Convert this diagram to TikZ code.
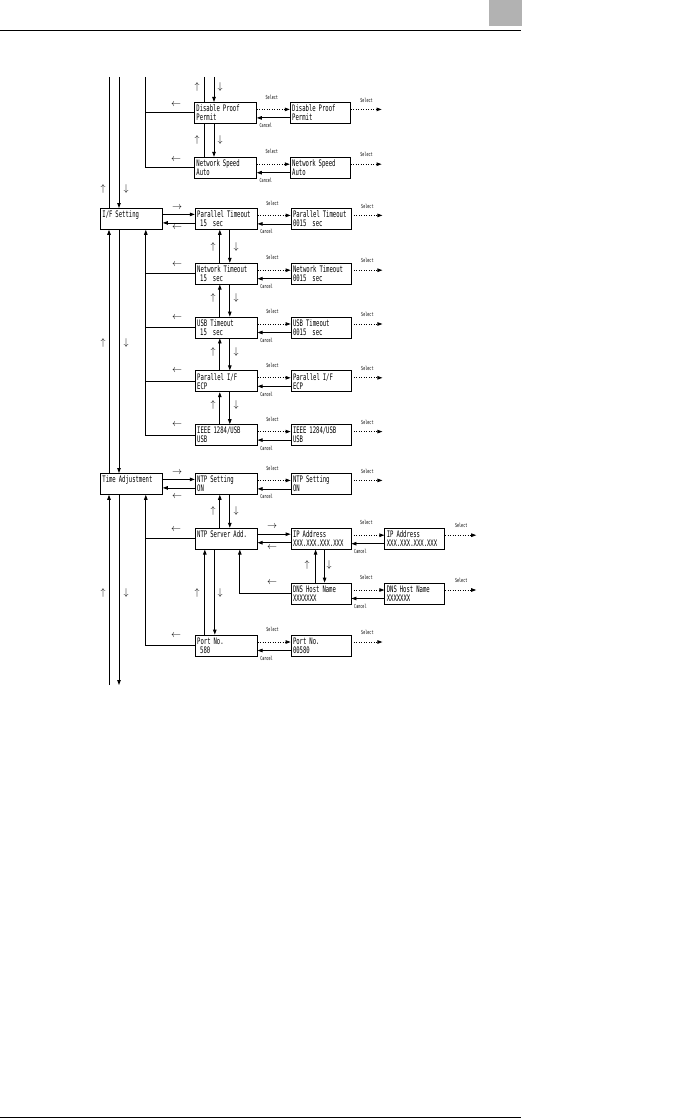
\documentclass[tikz,border=0pt]{standalone}
\usepackage{fontspec}
\usetikzlibrary{positioning, arrows.meta, calc}
\newfontfamily\lcdfont[FakeStretch=0.62]{DejaVu Sans Mono}
\hyphenpenalty=10000

\begin{document}
\begin{tikzpicture}[
  x=1pt, y=-1pt,
  menubox/.style={draw, line width=0.8pt, minimum height=21pt, text width=58pt, inner xsep=2pt, inner ysep=1pt, align=left, font=\fontsize{9}{9}\lcdfont},
  editbox/.style={menubox, text width=56pt},
  link/.style={line width=0.8pt},
  tip/.style={link, -{Triangle[length=5pt,width=3.5pt]}},
  selarrow/.style={tip, dash pattern=on 1pt off 1.5pt},
  lbl/.style={font=\fontsize{5.5}{5.5}\lcdfont, inner sep=0pt},
  hint/.style={inner sep=0pt, font=\normalsize}
]
\useasboundingbox (0,0) rectangle (683,1118);

% page header and footer
\fill[gray!60] (489,0) rectangle (522,26);
\draw[line width=1pt] (0,31) -- (521,31);
\draw[line width=1pt] (0,1117) -- (521,1117);

% menu items
\node[menubox, anchor=north west] (dproof) at (194,102) {Disable Proof\\Permit};
\node[menubox, below=33pt of dproof] (netspeed) {Network Speed\\Auto};

\node[menubox, anchor=north west] (ifset) at (100,208) {I/F Setting\\\phantom{X}};
\node[menubox, right=32pt of ifset] (partime) {Parallel Timeout\\\ 15\ \ sec};
\node[menubox, below=33pt of partime] (nettime) {Network Timeout\\\ 15\ \ sec};
\node[menubox, below=32pt of nettime] (usbtime) {USB Timeout\\\ 15\ \ sec};
\node[menubox, below=32pt of usbtime] (parif) {Parallel I/F\\ECP};
\node[menubox, below=32pt of parif] (ieee) {IEEE 1284/USB\\USB};

\node[menubox, anchor=north west] (timeadj) at (100,473) {Time Adjustment\\\phantom{X}};
\node[menubox, right=32pt of timeadj] (ntpset) {NTP Setting\\ON};
\node[menubox, below=33pt of ntpset] (ntpsrv) {NTP Server Add.\\\phantom{X}};
\node[menubox, below=85pt of ntpsrv] (portno) {Port No.\\\ 580};
\node[editbox, right=33pt of ntpsrv] (ipaddr) {IP Address\\XXX.XXX.XXX.XXX};
\node[editbox, below=33pt of ipaddr] (dnsname) {DNS Host Name\\XXXXXXX};

% edit screens
\node[editbox, right=33pt of dproof] (dproofE) {Disable Proof\\Permit};
\node[editbox, right=33pt of netspeed] (netspeedE) {Network Speed\\Auto};
\node[editbox, right=33pt of partime] (partimeE) {Parallel Timeout\\0015\ \ sec};
\node[editbox, right=33pt of nettime] (nettimeE) {Network Timeout\\0015\ \ sec};
\node[editbox, right=33pt of usbtime] (usbtimeE) {USB Timeout\\0015\ \ sec};
\node[editbox, right=33pt of parif] (parifE) {Parallel I/F\\ECP};
\node[editbox, right=33pt of ieee] (ieeeE) {IEEE 1284/USB\\USB};
\node[editbox, right=33pt of ntpset] (ntpsetE) {NTP Setting\\ON};
\node[editbox, right=33pt of portno] (portnoE) {Port No.\\00580};
\node[editbox, right=33pt of ipaddr] (ipaddrE) {IP Address\\XXX.XXX.XXX.XXX};
\node[editbox, right=33pt of dnsname] (dnsnameE) {DNS Host Name\\XXXXXXX};

% Select / Cancel
\foreach \a/\b in {dproof/dproofE, netspeed/netspeedE, partime/partimeE, nettime/nettimeE,
    usbtime/usbtimeE, parif/parifE, ieee/ieeeE, ntpset/ntpsetE, portno/portnoE,
    ipaddr/ipaddrE, dnsname/dnsnameE} {
  \draw[selarrow] ([yshift=3.5pt]\a.east) -- ([yshift=3.5pt]\b.west);
  \draw[tip] ([yshift=-5pt]\b.west) -- ([yshift=-5pt]\a.east);
  \coordinate (\b-out) at ([xshift=31pt,yshift=3.5pt]\b.east);
  \draw[selarrow] ([yshift=3.5pt]\b.east) -- (\b-out);
  \node[lbl] (\a-sel) at ([xshift=15pt,yshift=5pt]\a.north east) {Select};
  \node[lbl] (\a-can) at ([xshift=9pt,yshift=-2pt]\a.south east) {Cancel};
  \node[lbl] (\b-sel) at ([xshift=16pt,yshift=2pt]\b.north east) {Select};
}

% enter / back between levels
\foreach \a/\b in {ifset/partime, timeadj/ntpset, ntpsrv/ipaddr} {
  \draw[tip] ([yshift=4.5pt]\a.east) -- ([yshift=4.5pt]\b.west);
  \draw[tip] ([yshift=-4pt]\b.west) -- ([yshift=-4pt]\a.east);
}

% main column
\coordinate (topA) at (109,77);
\coordinate (topB) at (119,77);
\coordinate (topC) at (145,77);
\coordinate (topD) at (204,77);
\coordinate (topE) at (214,77);
\coordinate (botA) at (109,685);
\coordinate (botB) at (119,685);
\draw[link] (topA) -- ([xshift=9pt]ifset.north west);
\draw[tip] ([xshift=9pt]timeadj.north west) -- ([xshift=9pt]ifset.south west);
\draw[tip] (botA) -- ([xshift=9pt]timeadj.south west);
\draw[tip] (topB) -- ([xshift=19pt]ifset.north west);
\draw[tip] ([xshift=19pt]ifset.south west) -- ([xshift=19pt]timeadj.north west);
\draw[tip] ([xshift=19pt]timeadj.south west) -- (botB);

% back lines
\draw[link] (topC) |- (netspeed.west);
\draw[link] (dproof.west -| topC) -- (dproof.west);
\coordinate (ifret) at ([xshift=-17pt]ifset.south east);
\draw[tip] (ieee.west) -| (ifret);
\foreach \n in {nettime, usbtime, parif}
  \draw[link] (\n.west) -- (\n.west -| ifret);
\coordinate (taret) at ([xshift=-17pt]timeadj.south east);
\draw[tip] (portno.west) -| (taret);
\draw[link] (ntpsrv.west) -- (ntpsrv.west -| taret);
\draw[tip] (dnsname.west) -| ([xshift=45pt]ntpsrv.south west);

% sub columns
\draw[link] (topD) -- ([xshift=10pt]dproof.north west);
\draw[tip] (topE) -- ([xshift=20pt]dproof.north west);
\draw[link] ([xshift=10pt]netspeed.north west) -- ([xshift=10pt]dproof.south west);
\draw[tip] ([xshift=20pt]dproof.south west) -- ([xshift=20pt]netspeed.north west);
\foreach \a/\b in {partime/nettime, nettime/usbtime, usbtime/parif, parif/ieee, ntpset/ntpsrv} {
  \draw[tip] ([xshift=25pt]\b.north west) -- ([xshift=25pt]\a.south west);
  \draw[tip] ([xshift=35pt]\a.south west) -- ([xshift=35pt]\b.north west);
}
\draw[tip] ([xshift=10pt]portno.north west) -- ([xshift=10pt]ntpsrv.south west);
\draw[tip] ([xshift=20pt]ntpsrv.south west) -- ([xshift=20pt]portno.north west);
\draw[tip] ([xshift=25pt]dnsname.north west) -- ([xshift=25pt]ipaddr.south west);
\draw[tip] ([xshift=34pt]ipaddr.south west) -- ([xshift=34pt]dnsname.north west);

% key hints
\foreach \p [count=\i] in {(103,189),(103,343),(103,593),(197,87),(197,140),(213,247),
    (213,298),(213,352),(213,405),(213,511),(197,593),(307,565)}
  \node[hint] (up\i) at \p {$\uparrow$};
\foreach \p [count=\i] in {(126,189),(126,343),(126,593),(220,87),(220,140),(236,247),
    (236,298),(236,352),(236,405),(236,511),(220,593),(329,565)}
  \node[hint] (down\i) at \p {$\downarrow$};
\foreach \p [count=\i] in {(176,105),(176,160),(177,265),(177,318),(177,371),(177,425),
    (176,530),(176,636),(177,228),(177,497),(272,548),(272,583)}
  \node[hint] (left\i) at \p {$\leftarrow$};
\foreach \p [count=\i] in {(177,208),(177,473),(272,527)}
  \node[hint] (right\i) at \p {$\rightarrow$};
\end{tikzpicture}
\end{document}
